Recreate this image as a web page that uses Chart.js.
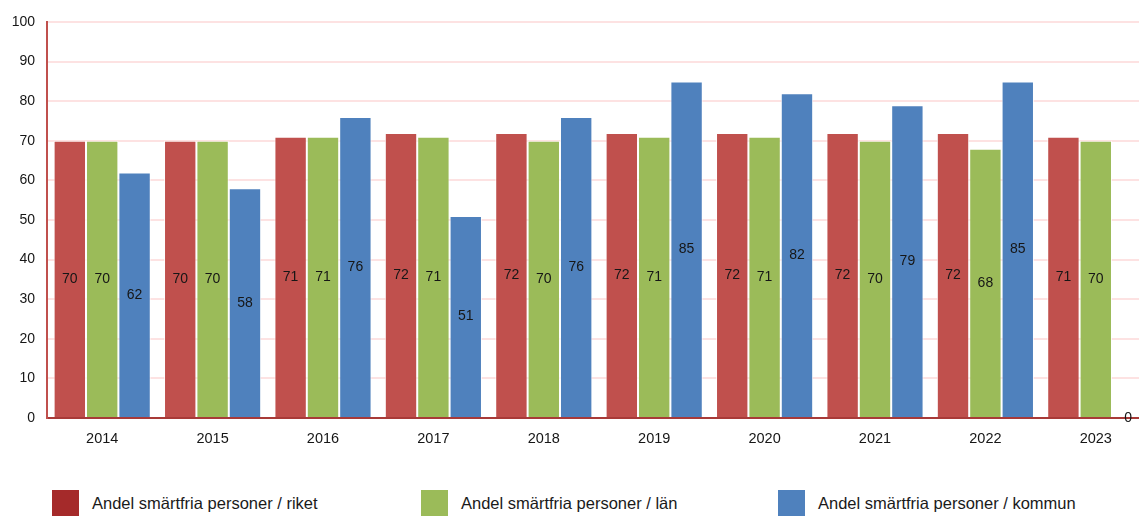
<!DOCTYPE html>
<html>
<head>
<meta charset="utf-8">
<script src="https://cdn.jsdelivr.net/npm/chart.js@4.4.1/dist/chart.umd.min.js"></script>
<style>
  html, body { margin: 0; padding: 0; background: #fff; overflow: hidden; width: 1139px; height: 516px; }
  #wrap { position: relative; width: 1152px; height: 470px; }
  .legend { position: absolute; top: 490px; left: 0; width: 1139px; height: 40px; font-family: "Liberation Sans", Arial, sans-serif; font-size: 16.5px; color: #1a1a1a; }
  .legend .item { position: absolute; top: 0; height: 26px; display: flex; align-items: center; white-space: nowrap; }
  .legend .box { width: 27px; height: 26px; margin-right: 13px; flex: none; }
</style>
</head>
<body>
<div id="wrap"><canvas id="c" width="1152" height="470"></canvas></div>
<div class="legend" id="legend"></div>
<script>
// Andel smärtfria personer per år, tre geografiska nivåer
const years = ['2014', '2015', '2016', '2017', '2018', '2019', '2020', '2021', '2022', '2023'];
const riket   = [70, 70, 71, 72, 72, 72, 72, 72, 72, 71];
const lan     = [70, 70, 71, 71, 70, 71, 71, 70, 68, 70];
const kommun  = [62, 58, 76, 51, 76, 85, 82, 79, 85, 0];
const seriesNames = [
  'Andel smärtfria personer / riket',
  'Andel smärtfria personer / län',
  'Andel smärtfria personer / kommun'
];
const yTicks = [0, 10, 20, 30, 40, 50, 60, 70, 80, 90, 100];

const barColors = ['#c0504d', '#9bbb59', '#4f81bd'];
const legendColors = ['#a52a2a', '#9bbb59', '#4f81bd'];
const FONT = '"Liberation Sans", Arial, sans-serif';

// Value labels centred inside each bar
const valueLabels = {
  id: 'valueLabels',
  afterDatasetsDraw(chart) {
    const ctx = chart.ctx;
    ctx.save();
    ctx.font = '14px ' + FONT;
    ctx.fillStyle = '#161616';
    ctx.textAlign = 'center';
    ctx.textBaseline = 'middle';
    chart.data.datasets.forEach((ds, i) => {
      const meta = chart.getDatasetMeta(i);
      meta.data.forEach((bar, j) => {
        const v = ds.data[j];
        if (v === null || v === undefined) return;
        const { x, y, base } = bar.getProps(['x', 'y', 'base'], true);
        ctx.fillText(String(v), x, (y + base) / 2);
      });
    });
    ctx.restore();
  }
};

const seriesData = [riket, lan, kommun];

new Chart(document.getElementById('c'), {
  type: 'bar',
  data: {
    labels: years,
    datasets: seriesData.map((d, i) => ({
      label: seriesNames[i],
      data: d,
      backgroundColor: barColors[i],
      borderColor: 'rgba(255,255,255,0.75)',
      borderWidth: 1,
      barPercentage: 1.0,
      categoryPercentage: 0.88
    }))
  },
  options: {
    responsive: false,
    devicePixelRatio: 1,
    animation: false,
    layout: { padding: { top: 22, left: 0, right: 1, bottom: 0 } },
    plugins: {
      legend: { display: false },
      tooltip: { enabled: false }
    },
    scales: {
      x: {
        grid: { display: false, drawTicks: false },
        border: { display: true, color: '#a83a38', width: 2 },
        ticks: { color: '#161616', font: { family: FONT, size: 14.5 }, padding: 12, maxRotation: 0 },
        afterFit(scale) { scale.height = 52; }
      },
      y: {
        min: 0,
        max: 100,
        afterBuildTicks(scale) { scale.ticks = yTicks.map(v => ({ value: v })); },
        grid: { color: '#fde2e2', lineWidth: 2, drawTicks: false },
        border: { display: true, color: '#c0504d', width: 2 },
        ticks: { color: '#161616', font: { family: FONT, size: 14 }, padding: 12 },
        afterFit(scale) { scale.width = 47; }
      }
    }
  },
  plugins: [valueLabels]
});

// Legend row below the plot
const legendLeft = [52, 421, 778];
const legendEl = document.getElementById('legend');
seriesNames.forEach((name, i) => {
  const item = document.createElement('div');
  item.className = 'item';
  item.style.left = legendLeft[i] + 'px';
  const box = document.createElement('span');
  box.className = 'box';
  box.style.background = legendColors[i];
  const txt = document.createElement('span');
  txt.textContent = name;
  item.appendChild(box);
  item.appendChild(txt);
  legendEl.appendChild(item);
});
</script>
</body>
</html>
